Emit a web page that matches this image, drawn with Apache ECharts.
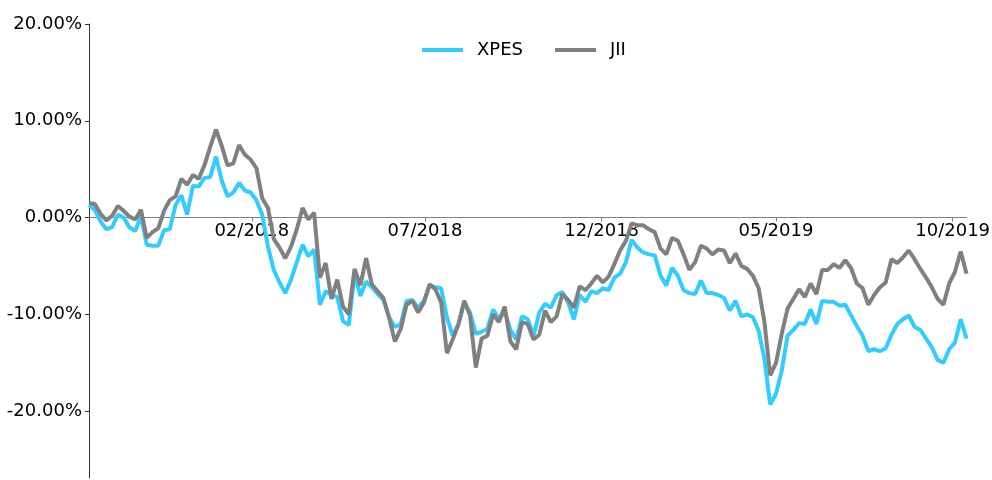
<!DOCTYPE html>
<html>
<head>
<meta charset="utf-8">
<script src="https://cdn.jsdelivr.net/npm/echarts@6/dist/echarts.min.js"></script>
<style>
html,body{margin:0;padding:0;background:#fff;}
#chart{width:992px;height:480px;}
</style>
</head>
<body>
<div id="chart"></div>
<script>
const dates = ['2017-09-13','2017-09-18','2017-09-23','2017-09-28','2017-10-03','2017-10-08','2017-10-13','2017-10-18','2017-10-23','2017-10-28','2017-11-02','2017-11-07','2017-11-12','2017-11-17','2017-11-22','2017-11-27','2017-12-02','2017-12-07','2017-12-12','2017-12-17','2017-12-22','2017-12-27','2018-01-01','2018-01-06','2018-01-11','2018-01-16','2018-01-21','2018-01-26','2018-01-31','2018-02-05','2018-02-10','2018-02-15','2018-02-20','2018-02-25','2018-03-02','2018-03-07','2018-03-12','2018-03-17','2018-03-22','2018-03-27','2018-04-01','2018-04-06','2018-04-11','2018-04-16','2018-04-21','2018-04-26','2018-05-01','2018-05-06','2018-05-11','2018-05-16','2018-05-21','2018-05-26','2018-05-31','2018-06-05','2018-06-10','2018-06-15','2018-06-20','2018-06-25','2018-06-30','2018-07-05','2018-07-10','2018-07-15','2018-07-20','2018-07-25','2018-07-30','2018-08-04','2018-08-09','2018-08-14','2018-08-19','2018-08-24','2018-08-29','2018-09-03','2018-09-08','2018-09-13','2018-09-18','2018-09-23','2018-09-28','2018-10-03','2018-10-08','2018-10-13','2018-10-18','2018-10-23','2018-10-28','2018-11-02','2018-11-07','2018-11-12','2018-11-17','2018-11-22','2018-11-27','2018-12-02','2018-12-07','2018-12-12','2018-12-17','2018-12-22','2018-12-27','2019-01-01','2019-01-06','2019-01-11','2019-01-16','2019-01-21','2019-01-26','2019-01-31','2019-02-05','2019-02-10','2019-02-15','2019-02-20','2019-02-25','2019-03-02','2019-03-07','2019-03-12','2019-03-17','2019-03-22','2019-03-27','2019-04-01','2019-04-06','2019-04-11','2019-04-16','2019-04-21','2019-04-26','2019-05-01','2019-05-06','2019-05-11','2019-05-16','2019-05-21','2019-05-26','2019-05-31','2019-06-05','2019-06-10','2019-06-15','2019-06-20','2019-06-25','2019-06-30','2019-07-05','2019-07-10','2019-07-15','2019-07-20','2019-07-25','2019-07-30','2019-08-04','2019-08-09','2019-08-14','2019-08-19','2019-08-24','2019-08-29','2019-09-03','2019-09-08','2019-09-13','2019-09-18','2019-09-23','2019-09-28','2019-10-03','2019-10-08','2019-10-13'];

// cumulative return, %
const xpes = [1.3,0.8,-0.4,-1.2,-1.0,0.3,0.0,-1.0,-1.4,0.2,-2.8,-2.9,-2.9,-1.3,-1.2,1.3,2.3,0.3,3.3,3.2,4.1,4.2,6.3,3.8,2.2,2.6,3.6,2.8,2.6,1.8,0.3,-3.0,-5.4,-6.7,-7.8,-6.4,-4.6,-2.8,-4.0,-3.3,-9.0,-7.6,-8.0,-8.2,-10.7,-11.1,-5.7,-8.1,-6.6,-7.2,-7.9,-8.5,-10.3,-11.3,-11.0,-8.6,-8.5,-9.3,-8.6,-7.0,-7.2,-7.3,-10.3,-12.2,-11.0,-8.8,-9.8,-12.0,-11.8,-11.5,-9.5,-10.5,-9.7,-11.6,-12.6,-10.2,-10.5,-12.2,-9.8,-8.9,-9.3,-8.0,-7.7,-8.8,-10.5,-8.0,-8.7,-7.6,-7.8,-7.3,-7.5,-6.2,-5.8,-4.6,-2.3,-3.1,-3.6,-3.8,-3.9,-6.0,-7.0,-5.2,-6.0,-7.5,-7.8,-7.9,-6.5,-7.8,-7.8,-8.0,-8.3,-9.6,-8.6,-10.2,-10.0,-10.3,-11.7,-14.6,-19.3,-18.2,-15.8,-12.2,-11.6,-10.9,-11.0,-9.5,-11.0,-8.6,-8.7,-8.7,-9.1,-9.0,-10.1,-11.2,-12.2,-13.8,-13.6,-13.8,-13.5,-12.1,-11.0,-10.5,-10.1,-11.3,-11.6,-12.5,-13.4,-14.7,-15.0,-13.6,-12.9,-10.5,-12.5];
const jii = [1.5,1.4,0.4,-0.3,0.2,1.2,0.7,0.1,-0.2,0.8,-2.1,-1.5,-1.1,0.7,1.8,2.2,4.0,3.4,4.4,4.0,5.4,7.3,9.1,7.4,5.4,5.6,7.5,6.5,6.0,5.1,2.0,1.0,-2.2,-3.1,-4.2,-3.0,-1.2,1.0,-0.2,0.5,-6.2,-4.7,-8.4,-6.4,-9.2,-10.0,-5.3,-7.0,-4.2,-6.9,-7.6,-8.3,-10.4,-12.8,-11.5,-9.0,-8.6,-9.8,-8.8,-6.9,-7.4,-8.8,-14.0,-12.6,-11.0,-8.6,-10.1,-15.5,-12.5,-12.2,-10.0,-10.8,-9.2,-12.8,-13.6,-10.8,-11.0,-12.6,-12.1,-9.6,-10.8,-10.2,-7.9,-8.5,-9.3,-7.1,-7.5,-6.8,-6.0,-6.7,-6.1,-4.8,-3.4,-2.4,-0.6,-0.8,-0.8,-1.2,-1.5,-3.2,-3.8,-2.1,-2.4,-3.8,-5.4,-4.6,-2.9,-3.2,-3.8,-3.3,-3.4,-4.7,-3.7,-5.0,-5.3,-6.0,-7.3,-10.8,-16.3,-15.0,-12.0,-9.4,-8.4,-7.4,-8.2,-6.8,-7.9,-5.4,-5.4,-4.8,-5.2,-4.4,-5.2,-6.8,-7.3,-9.0,-8.0,-7.2,-6.7,-4.3,-4.7,-4.1,-3.4,-4.3,-5.3,-6.2,-7.2,-8.4,-9.0,-6.8,-5.6,-3.5,-5.8];

const xTickDates = ['2018-02-01','2018-07-01','2018-12-01','2019-05-01','2019-10-01'];
const xTickLabels = ['02/2018','07/2018','12/2018','05/2019','10/2019'];
const yTicks = [-20,-10,0,10,20];

function ts(s){ const p=s.split('-').map(Number); return Date.UTC(p[0],p[1]-1,p[2]); }
const xTickTs = xTickDates.map(ts);

const Y_MIN = -26.9, Y_MAX = 20, GRID_TOP = 24, GRID_BOTTOM = 2;
const plotH = 480 - GRID_TOP - GRID_BOTTOM;
const zeroFromBottom = plotH * (0 - Y_MIN) / (Y_MAX - Y_MIN);

const chart = echarts.init(document.getElementById('chart'));
const font = 'DejaVu Sans';
chart.setOption({
  animation:false,
  grid:{left:89,right:25.5,top:GRID_TOP,bottom:GRID_BOTTOM,containLabel:false,outerBoundsMode:'none'},
  legend:{
    left:417, top:36, icon:'rect', itemWidth:41, itemHeight:4, itemGap:32,
    textStyle:{fontFamily:font,fontSize:18,color:'#000',padding:[0,0,0,9]},
    data:['XPES','JII']
  },
  xAxis:{
    type:'value', min:ts(dates[0]), max:ts(dates[dates.length-1]),
    offset:-zeroFromBottom,
    axisLine:{onZero:false,lineStyle:{color:'#808080',width:1}},
    axisTick:{show:true,customValues:xTickTs,length:4,lineStyle:{color:'#808080'}},
    axisLabel:{customValues:xTickTs,fontFamily:font,fontSize:18,color:'#000',margin:5,
      formatter:function(v){const i=xTickTs.indexOf(v);return i>=0?xTickLabels[i]:'';}},
    splitLine:{show:false}
  },
  yAxis:{
    type:'value', min:Y_MIN, max:Y_MAX,
    axisLine:{show:true,lineStyle:{color:'#333',width:1}},
    axisTick:{show:true,customValues:yTicks,length:4,lineStyle:{color:'#333'}},
    axisLabel:{customValues:yTicks,fontFamily:font,fontSize:18,color:'#000',margin:7,
      formatter:function(v){return v.toFixed(2)+'%';}},
    splitLine:{show:false}
  },
  series:[
    {name:'XPES',type:'line',symbol:'none',data:dates.map((d,i)=>[ts(d),xpes[i]]),
     lineStyle:{color:'#33CCFF',width:4},itemStyle:{color:'#33CCFF'}},
    {name:'JII',type:'line',symbol:'none',data:dates.map((d,i)=>[ts(d),jii[i]]),
     lineStyle:{color:'#808080',width:4},itemStyle:{color:'#808080'}}
  ]
});
</script>
</body>
</html>
